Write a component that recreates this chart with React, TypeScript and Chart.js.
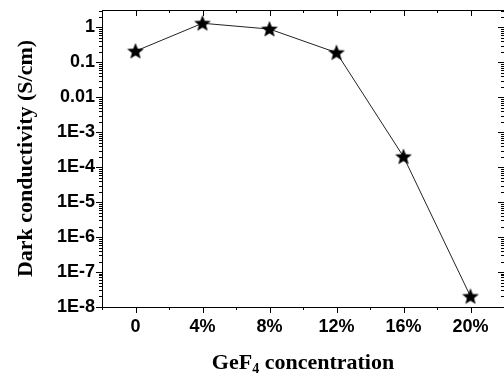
import React, { useEffect, useRef } from "react";
import { Chart, registerables } from "chart.js";

Chart.register(...registerables);

// ---- data ----
const concentrations = [0, 4, 8, 12, 16, 20]; // GeF4 %
const conductivity = [0.21, 1.32, 0.9, 0.19, 2.0e-4, 2.0e-8]; // S/cm
const xTickValues = [0, 4, 8, 12, 16, 20];
const xTickLabels = ["0", "4%", "8%", "12%", "16%", "20%"];
const xMinorValues = [-2, 2, 6, 10, 14, 18, 22];
const yTickValues = [1e-8, 1e-7, 1e-6, 1e-5, 1e-4, 1e-3, 0.01, 0.1, 1];
const yTickLabels = ["1E-8", "1E-7", "1E-6", "1E-5", "1E-4", "1E-3", "0.01", "0.1", "1"];
const yTitle = "Dark conductivity (S/cm)";
const xTitleMain = "GeF";
const xTitleSub = "4";
const xTitleRest = " concentration";

function makeStar(size: number, outer: number, inner: number) {
  const c = document.createElement("canvas");
  c.width = size;
  c.height = size;
  const ctx = c.getContext("2d")!;
  const cx = size / 2;
  const cy = size / 2 + 0.5;
  ctx.beginPath();
  for (let i = 0; i < 10; i++) {
    const r = i % 2 === 0 ? outer : inner;
    const a = -Math.PI / 2 + (i * Math.PI) / 5;
    const px = cx + r * Math.cos(a);
    const py = cy + r * Math.sin(a);
    if (i === 0) ctx.moveTo(px, py);
    else ctx.lineTo(px, py);
  }
  ctx.closePath();
  ctx.fillStyle = "#000";
  ctx.fill();
  return c;
}

const framePlugin = {
  id: "frame",
  afterDraw(chart: any) {
    const { ctx, chartArea } = chart;
    const { left, right, top, bottom } = chartArea;
    const xs = chart.scales.x;
    const ys = chart.scales.y;
    ctx.save();
    ctx.strokeStyle = "#000";
    ctx.lineWidth = 1;
    // frame (right edge lies just past the canvas)
    ctx.beginPath();
    ctx.moveTo(right, top + 0.5);
    ctx.lineTo(left + 0.5, top + 0.5);
    ctx.lineTo(left + 0.5, bottom + 0.5);
    ctx.lineTo(right, bottom + 0.5);
    ctx.stroke();
    const major = 6;
    const minor = 3;
    ctx.beginPath();
    // x ticks
    const xt = (v: number, len: number) => {
      const p = Math.round(xs.getPixelForValue(v)) + 0.5;
      ctx.moveTo(p, bottom);
      ctx.lineTo(p, bottom + len);
      ctx.moveTo(p, top);
      ctx.lineTo(p, top + len);
    };
    xTickValues.forEach((v) => xt(v, major));
    xMinorValues.forEach((v) => xt(v, minor));
    // y ticks
    const yt = (v: number, len: number) => {
      const p = Math.round(ys.getPixelForValue(v)) + 0.5;
      ctx.moveTo(left, p);
      ctx.lineTo(left - len, p);
      ctx.moveTo(right, p);
      ctx.lineTo(right - len, p);
    };
    yTickValues.forEach((v) => yt(v, major));
    for (let d = -8; d <= 0; d++) {
      for (let k = 2; k <= 9; k++) {
        const v = k * Math.pow(10, d);
        if (v <= ys.max) yt(v, minor);
      }
    }
    ctx.stroke();

    // x title with subscript
    const mainFont = "bold 22px 'Liberation Serif', 'Times New Roman', serif";
    const subFont = "bold 14px 'Liberation Serif', 'Times New Roman', serif";
    ctx.fillStyle = "#000";
    ctx.textBaseline = "alphabetic";
    ctx.textAlign = "left";
    ctx.font = mainFont;
    const w1 = ctx.measureText(xTitleMain).width;
    const w3 = ctx.measureText(xTitleRest).width;
    ctx.font = subFont;
    const w2 = ctx.measureText(xTitleSub).width;
    const total = w1 + w2 + w3;
    const cx = (left + right) / 2;
    let x0 = cx - total / 2;
    const base = 369;
    ctx.font = mainFont;
    ctx.fillText(xTitleMain, x0, base);
    x0 += w1;
    ctx.font = subFont;
    ctx.fillText(xTitleSub, x0, base + 4);
    x0 += w2;
    ctx.font = mainFont;
    ctx.fillText(xTitleRest, x0, base);
    ctx.restore();
  },
};

export default function App() {
  const ref = useRef<HTMLCanvasElement>(null);
  useEffect(() => {
    if (!ref.current) return;
    const star = makeStar(20, 8.8, 3.8);
    const tickFont = { family: "'Liberation Sans', Arial, sans-serif", size: 18, weight: "bold" as const };
    const chart = new Chart(ref.current, {
      type: "line",
      data: {
        datasets: [
          {
            data: concentrations.map((x, i) => ({ x, y: conductivity[i] })),
            borderColor: "#222",
            borderWidth: 1,
            pointStyle: star as any,
            pointRadius: 9,
            pointHoverRadius: 9,
            fill: false,
            tension: 0,
            clip: false,
          },
        ],
      },
      options: {
        responsive: false,
        animation: false,
        events: [],
        layout: { autoPadding: false, padding: { top: 10, right: 0, left: 0, bottom: 0 } },
        plugins: { legend: { display: false }, tooltip: { enabled: false } },
        scales: {
          x: {
            type: "linear",
            position: "bottom",
            min: -2,
            max: 22,
            grid: { display: false, drawTicks: false },
            border: { display: false },
            afterBuildTicks: (scale: any) => {
              scale.ticks = xTickValues.map((v) => ({ value: v }));
            },
            afterFit: (scale: any) => {
              scale.height = 69;
              scale.paddingLeft = 0;
              scale.paddingRight = 0;
              scale.paddingTop = 0;
              scale.paddingBottom = 0;
            },
            ticks: {
              autoSkip: false,
              maxRotation: 0,
              padding: 9,
              color: "#000",
              font: tickFont,
              callback: (_v: any, i: number) => xTickLabels[i],
            },
          },
          y: {
            type: "logarithmic",
            position: "left",
            min: 1e-8,
            max: 3.162,
            grid: { display: false, drawTicks: false },
            border: { display: false },
            afterBuildTicks: (scale: any) => {
              scale.ticks = yTickValues.map((v) => ({ value: v }));
            },
            afterFit: (scale: any) => {
              scale.width = 102;
              scale.paddingLeft = 0;
              scale.paddingRight = 0;
              scale.paddingTop = 0;
              scale.paddingBottom = 0;
            },
            ticks: {
              autoSkip: false,
              padding: 7,
              color: "#000",
              font: tickFont,
              callback: (_v: any, i: number) => yTickLabels[i],
            },
            title: {
              display: true,
              text: yTitle,
              color: "#000",
              padding: { top: 13, bottom: 0 },
              font: { family: "'Liberation Serif', 'Times New Roman', serif", size: 22, weight: "bold" },
            },
          },
        },
      },
      plugins: [framePlugin],
    });
    return () => chart.destroy();
  }, []);
  return (
    <div style={{ position: "fixed", left: 0, top: 0, width: 504, height: 376, background: "#fff" }}>
      <canvas ref={ref} width={504} height={376} />
    </div>
  );
}
